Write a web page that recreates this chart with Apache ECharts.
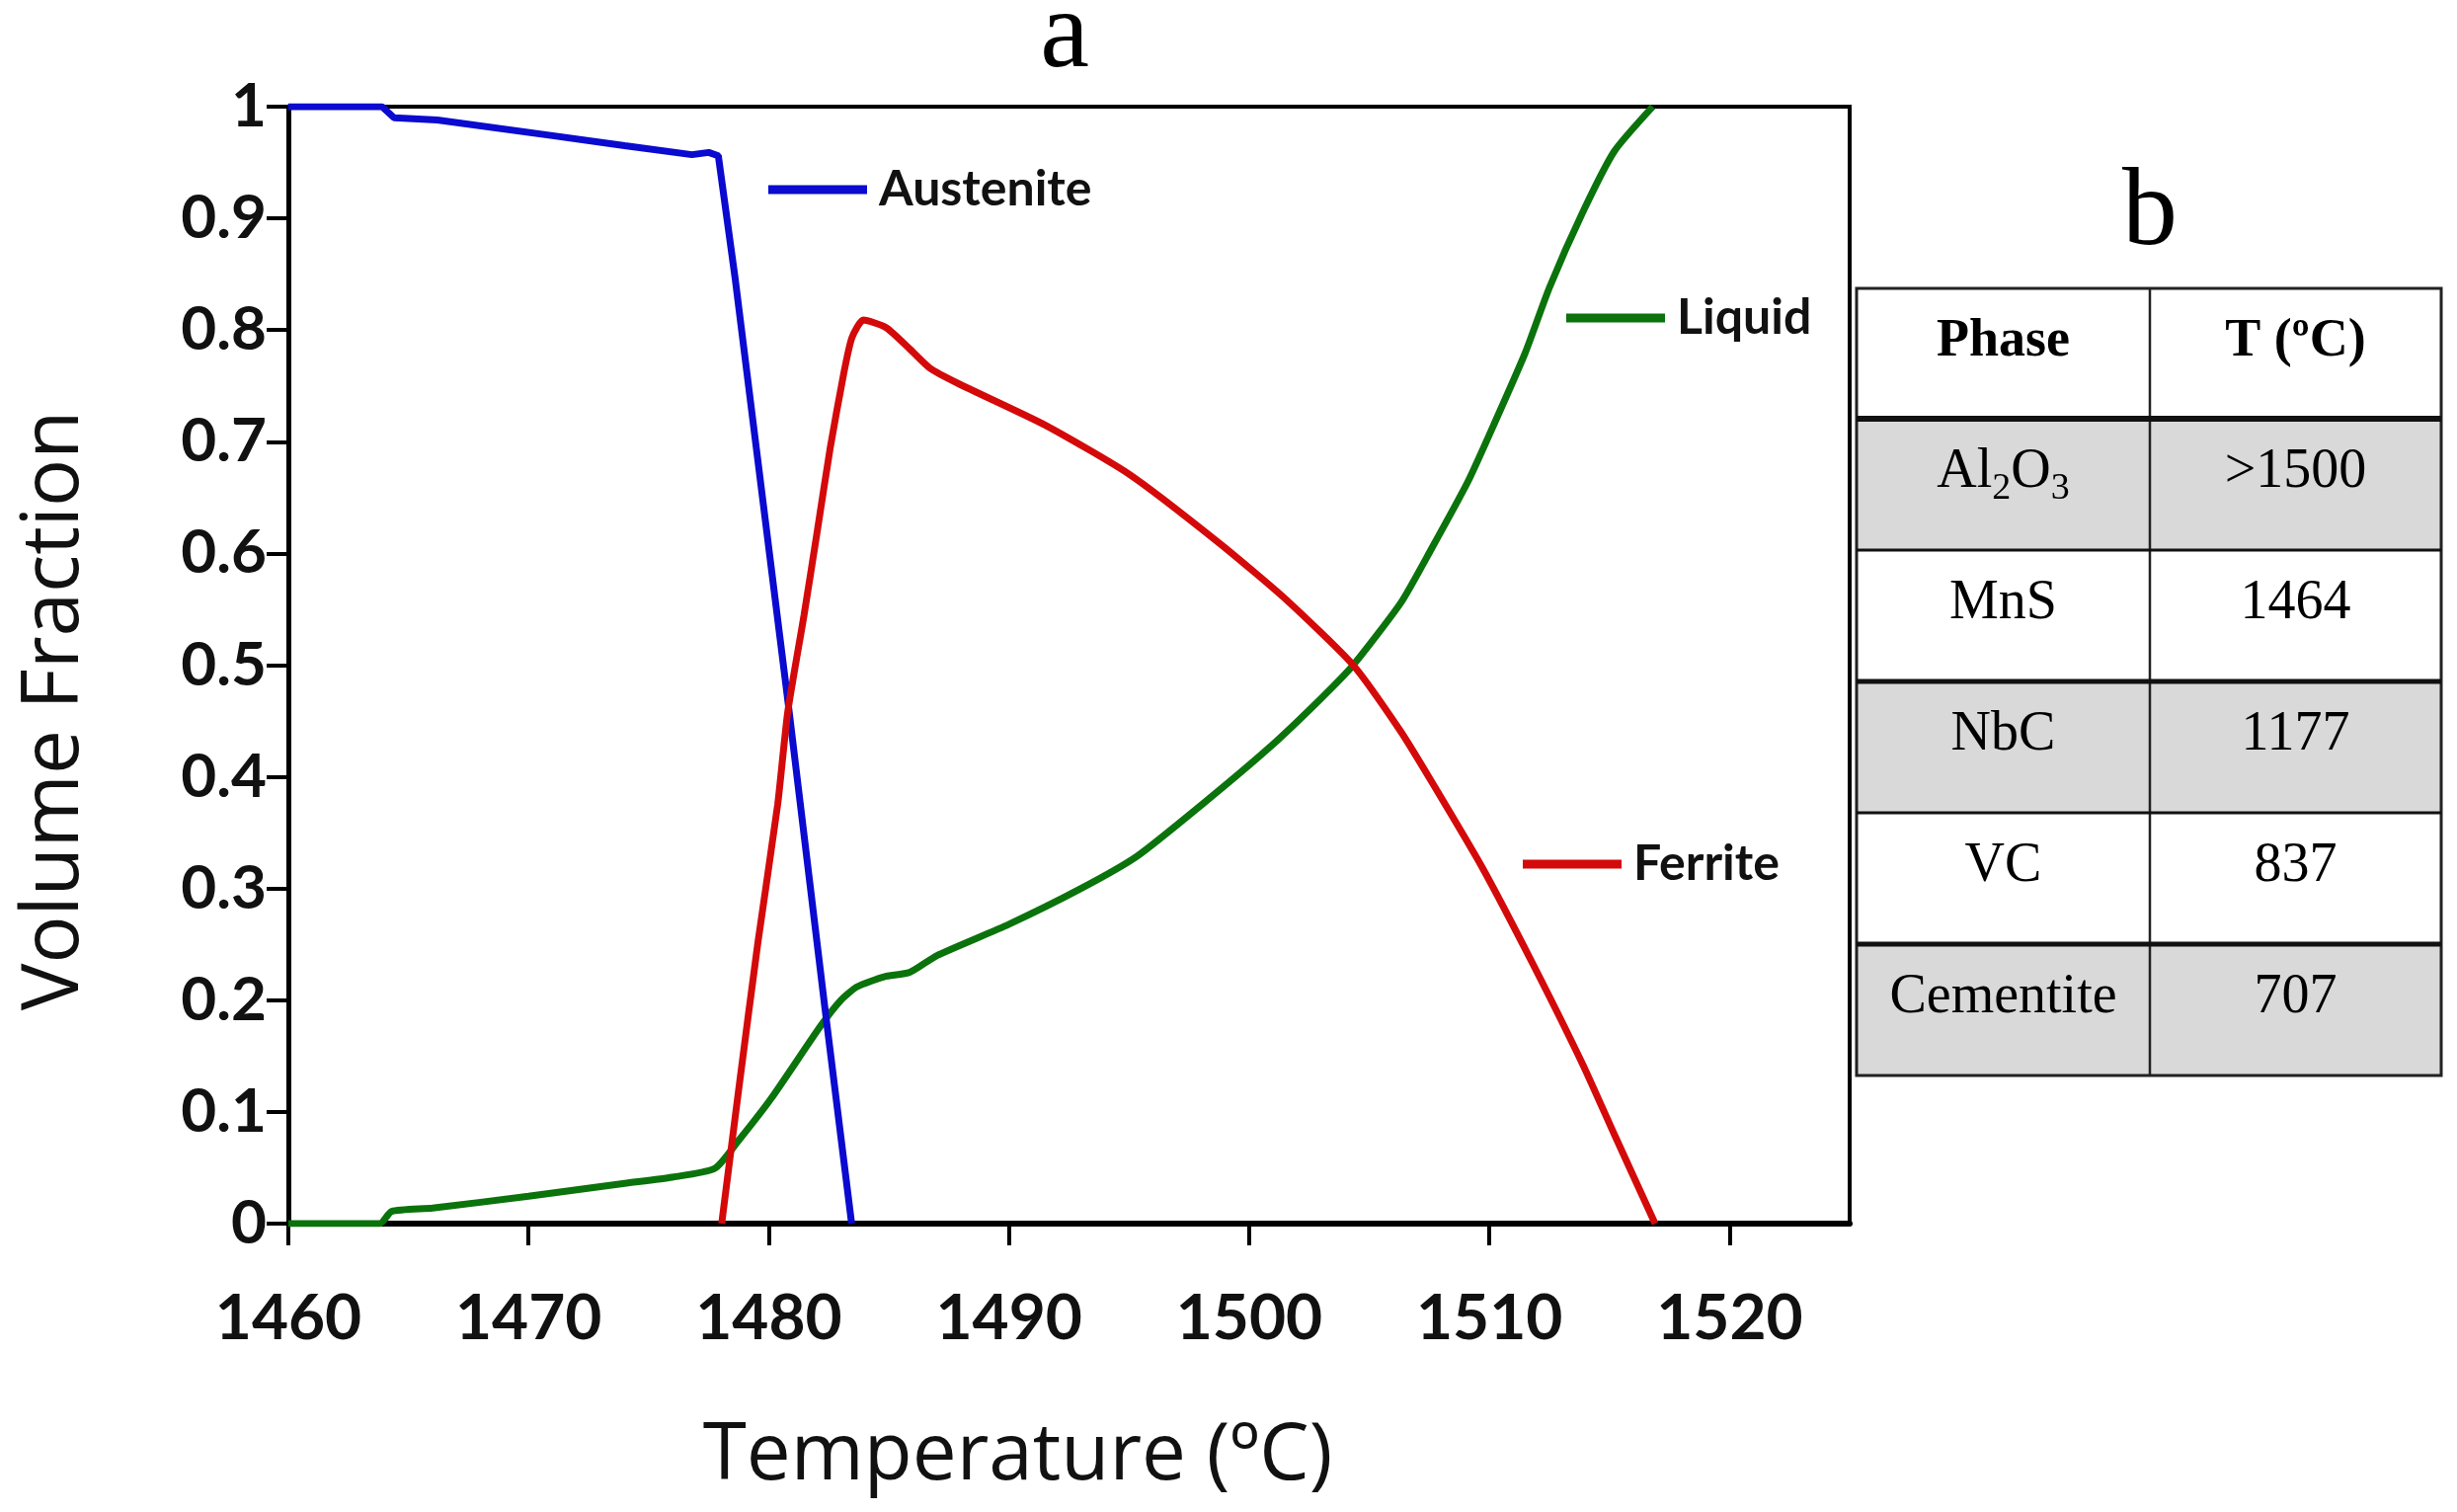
<!DOCTYPE html>
<html lang="en">
<head>
    <meta charset="UTF-8">
    <title>Volume fraction vs temperature</title>
    <style>
        html, body { margin: 0; padding: 0; background: #fff; }
    </style>
</head>
<body>
<div id="main" style="width:2488px;height:1531px"></div>
<script src="https://cdn.jsdelivr.net/npm/echarts@6/dist/echarts.min.js"></script>
<script>
    // curves: [temperature ºC, volume fraction]
    var austenite = [
        [1460, 1.0], [1463.9, 1.0], [1464.4, 0.990], [1466.2, 0.988], [1471, 0.974],
        [1474, 0.965], [1476.8, 0.957], [1477.5, 0.959], [1477.9, 0.956],
        [1478.59, 0.848], [1480.79, 0.469], [1482.4, 0.182], [1483.45, 0]
    ];
    var ferrite = [
        [1478.04, 0], [1478.73, 0.117], [1479.55, 0.252], [1480.37, 0.375], [1480.79, 0.458],
        [1481.47, 0.545], [1482.02, 0.62], [1482.57, 0.696], [1483.12, 0.761], [1483.46, 0.793],
        [1483.94, 0.809], [1484.9, 0.802], [1485.87, 0.783], [1486.7, 0.766], [1487.9, 0.752],
        [1491.5, 0.715], [1495.0, 0.671], [1498.77, 0.609], [1501.52, 0.559], [1504.33, 0.5],
        [1506.3, 0.441], [1507.56, 0.397], [1509.7, 0.319], [1511.8, 0.233], [1513.9, 0.142],
        [1515.2, 0.08], [1516.9, 0]
    ];
    var liquid = [
        [1460, 0], [1463.8, 0], [1464.3, 0.011], [1466, 0.014], [1470, 0.0245],
        [1474, 0.036], [1475.98, 0.0415], [1477.76, 0.0495], [1478.73, 0.074], [1480.1, 0.112],
        [1482.16, 0.177], [1483.0, 0.2], [1483.67, 0.212], [1484.8, 0.221], [1485.87, 0.225],
        [1487, 0.24], [1490, 0.268], [1493, 0.30], [1495.34, 0.329], [1498.08, 0.376],
        [1500.83, 0.426], [1502.89, 0.468], [1504.33, 0.5], [1506.32, 0.556], [1507.56, 0.603],
        [1509.1, 0.664], [1510.2, 0.716], [1511.5, 0.78], [1512.5, 0.838], [1513.9, 0.906],
        [1515.2, 0.96], [1516.8, 1.0]
    ];
    var xTicks = [1460, 1470, 1480, 1490, 1500, 1510, 1520];

    // table b
    var tableHeader = ['Phase', 'T (ºC)'];
    var phases = ['Al2O3', 'MnS', 'NbC', 'VC', 'Cementite'];
    var phaseTemps = ['>1500', '1464', '1177', '837', '707'];

    var myChart = echarts.init(document.getElementById('main'));

    // table geometry (pixels)
    var tLeft = 1880, tMid = 2177, tRight = 2472, tTop = 292, headH = 132, rowH = 133;
    var serif = '"Liberation Serif", "Times New Roman", serif';

    function subscriptDigits(s) {
        return s.replace(/(\d)/g, '{s|$1}');
    }

    var graphics = [];
    // row backgrounds
    phases.forEach(function (p, i) {
        graphics.push({
            type: 'rect',
            shape: { x: tLeft, y: tTop + headH + i * rowH, width: tRight - tLeft, height: rowH },
            style: { fill: i % 2 === 0 ? '#d9d9d9' : '#ffffff' },
            z: 1
        });
    });
    // outer frame
    graphics.push({
        type: 'rect',
        shape: { x: tLeft, y: tTop, width: tRight - tLeft, height: headH + phases.length * rowH },
        style: { fill: 'none', stroke: '#222', lineWidth: 3 },
        z: 3
    });
    // column divider
    graphics.push({
        type: 'line',
        shape: { x1: tMid, y1: tTop, x2: tMid, y2: tTop + headH + phases.length * rowH },
        style: { stroke: '#222', lineWidth: 2.5 },
        z: 3
    });
    // row separators
    for (var r = 0; r < phases.length; r++) {
        var yy = tTop + headH + r * rowH;
        graphics.push({
            type: 'line',
            shape: { x1: tLeft, y1: yy, x2: tRight, y2: yy },
            style: { stroke: '#111', lineWidth: r === 0 ? 6 : (r % 2 === 0 ? 5 : 3) },
            z: 3
        });
    }
    // header text
    tableHeader.forEach(function (h, i) {
        graphics.push({
            type: 'text',
            x: i === 0 ? (tLeft + tMid) / 2 : (tMid + tRight) / 2,
            y: tTop + headH / 2 - 12,
            style: {
                text: h, fill: '#000', font: 'bold 54px ' + serif,
                textAlign: 'center', textVerticalAlign: 'middle'
            },
            z: 4
        });
    });
    // body text
    phases.forEach(function (p, i) {
        var cy = tTop + headH + i * rowH + rowH / 2 - 12;
        graphics.push({
            type: 'text',
            x: (tLeft + tMid) / 2,
            y: cy,
            style: {
                text: subscriptDigits(p), fill: '#000', font: '56px ' + serif,
                textAlign: 'center', textVerticalAlign: 'middle',
                rich: {
                    s: { fontFamily: serif, fontSize: 38, verticalAlign: 'bottom', padding: [34, 0, 0, 0] }
                }
            },
            z: 4
        });
        graphics.push({
            type: 'text',
            x: (tMid + tRight) / 2,
            y: cy,
            style: {
                text: phaseTemps[i], fill: '#000', font: '56px ' + serif,
                textAlign: 'center', textVerticalAlign: 'middle'
            },
            z: 4
        });
    });
    // panel letters
    graphics.push({
        type: 'text', x: 1078, y: 38,
        style: { text: 'a', fill: '#000', font: '112px ' + serif, textAlign: 'center', textVerticalAlign: 'middle' }
    });
    graphics.push({
        type: 'text', x: 2177, y: 218,
        style: { text: 'b', fill: '#000', font: '112px ' + serif, textAlign: 'center', textVerticalAlign: 'middle' }
    });

    var legendText = { fontFamily: 'Lato', fontWeight: 'bold', fontSize: 50, color: '#111', padding: [0, 0, 0, 7] };
    function legendAt(name, left, cy) {
        return {
            data: [name], left: left, top: cy - 30, padding: 0,
            icon: 'rect', itemWidth: 100, itemHeight: 9,
            textStyle: legendText, selectedMode: false
        };
    }

    var option = {
        backgroundColor: '#ffffff',
        animation: false,
        grid: {
            left: 292, right: 615, top: 108, bottom: 292,
            show: true, borderColor: '#000', borderWidth: 4, backgroundColor: 'transparent'
        },
        legend: [
            legendAt('Austenite', 778, 197),
            legendAt('Liquid', 1586, 327),
            legendAt('Ferrite', 1542, 880)
        ],
        xAxis: {
            type: 'value',
            min: 1460, max: 1525, interval: 10,
            name: 'Temperature (ºC)',
            nameLocation: 'middle',
            nameGap: 196,
            nameTextStyle: { fontFamily: 'Open Sans', fontSize: 80, color: '#111', padding: [0, 104, 0, 0] },
            axisLine: { lineStyle: { color: '#000', width: 6 } },
            axisTick: { show: true, inside: false, length: 22, customValues: xTicks, lineStyle: { color: '#000', width: 4 } },
            axisLabel: {
                customValues: xTicks, margin: 64,
                formatter: function (v) { return String(v); },
                fontFamily: 'Lato', fontWeight: 'bold', fontSize: 64, color: '#111'
            },
            splitLine: { show: false }
        },
        yAxis: {
            type: 'value',
            min: 0, max: 1, interval: 0.1,
            name: 'Volume Fraction',
            nameLocation: 'middle',
            nameGap: 196,
            nameTextStyle: { fontFamily: 'Open Sans', fontSize: 80, color: '#111', padding: [0, 92, 0, 0] },
            axisLine: { show: true, lineStyle: { color: '#000', width: 5 } },
            axisTick: { show: true, inside: false, length: 22, lineStyle: { color: '#000', width: 4 } },
            axisLabel: {
                margin: 22,
                fontFamily: 'Lato', fontWeight: 'bold', fontSize: 62, color: '#111'
            },
            splitLine: { show: false }
        },
        series: [
            {
                name: 'Austenite', type: 'line', data: austenite,
                showSymbol: false, smooth: false,
                lineStyle: { color: '#0a0ad0', width: 7 }, itemStyle: { color: '#0a0ad0' }, z: 3
            },
            {
                name: 'Liquid', type: 'line', data: liquid,
                showSymbol: false, smooth: 0.2,
                lineStyle: { color: '#0b730b', width: 7 }, itemStyle: { color: '#0b730b' }, z: 2
            },
            {
                name: 'Ferrite', type: 'line', data: ferrite,
                showSymbol: false, smooth: 0.2,
                lineStyle: { color: '#d40a0a', width: 7 }, itemStyle: { color: '#d40a0a' }, z: 4
            }
        ],
        graphic: graphics
    };
    myChart.setOption(option);
</script>
</body>
</html>
